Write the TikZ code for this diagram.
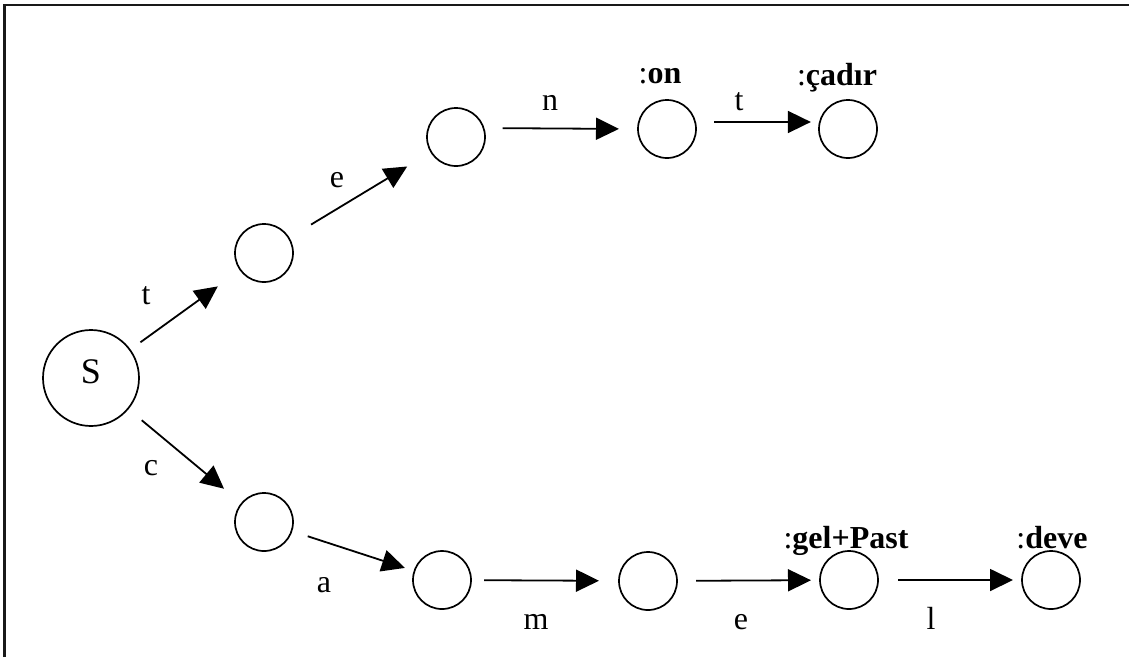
\documentclass[tikz,border=0pt]{standalone}
\usepackage{fontspec}
\setmainfont{Liberation Serif}
\usetikzlibrary{arrows.meta}
\begin{document}
\begin{tikzpicture}[x=1pt,y=-1pt,
  st/.style={circle,draw,line width=1.7pt,minimum size=58pt,inner sep=0pt,outer sep=0pt},
  startst/.style={circle,draw,line width=1.7pt,minimum size=96pt,inner sep=0pt,outer sep=0pt},
  arr/.style={line width=1.8pt,-{Triangle[length=23pt,width=22pt]}},
  lbl/.style={inner sep=0pt,anchor=base,font=\fontsize{32}{36}\selectfont},
  outlbl/.style={inner sep=0pt,anchor=base,font=\fontsize{32}{36}\selectfont}]
\useasboundingbox (0,0) rectangle (1129,657);
\draw[line width=2.2pt,black!90] (4.5,657) -- (4.5,5) -- (1129,5);
% states
\node[startst] (S) at (91,378) {};
\node[lbl] (Slbl) at (91,383) {\fontsize{36}{40}\selectfont S};
\node[st] (t1) at (264,253) {};
\node[st] (e1) at (456,137) {};
\node[st] (on) at (667,129) {};
\node[st] (cadir) at (848,129) {};
\node[st] (c1) at (264,522) {};
\node[st] (a1) at (442,580) {};
\node[st] (m1) at (648,581) {};
\node[st] (gel) at (849,580) {};
\node[st] (deve) at (1051,580) {};
% transitions
\draw[arr,shorten <=13pt,shorten >=28pt] (S) -- (t1);
\draw[arr,shorten <=26pt,shorten >=28pt] (t1) -- (e1);
\draw[arr,shorten <=19pt,shorten >=19pt] (e1.18) -- (on.180);
\draw[arr,shorten <=19pt,shorten >=9pt] (on.14) -- (cadir.166);
\draw[arr,shorten <=18pt,shorten >=23pt] (S) -- (c1);
\draw[arr,shorten <=17pt,shorten >=10pt] (c1) -- (a1);
\draw[arr,shorten <=13pt,shorten >=20pt] (a1) -- (m1);
\draw[arr,shorten <=19pt,shorten >=9pt] (m1) -- (gel);
\draw[arr,shorten <=20pt,shorten >=9pt] (gel) -- (deve);
% edge labels
\node[lbl] (lt1) at (146,304) {t};
\node[lbl] (le1) at (337,187) {e};
\node[lbl] (ln) at (550,110) {n};
\node[lbl] (lt2) at (739,110) {t};
\node[lbl] (lc) at (151,475) {c};
\node[lbl] (la) at (324,592) {a};
\node[lbl] (lm) at (536,629) {m};
\node[lbl] (le2) at (741,629) {e};
\node[lbl] (ll) at (931,629) {l};
% outputs
\node[outlbl] (oon) at (660,83) {:\textbf{on}};
\node[outlbl] (ocadir) at (837,85) {:\textbf{çadır}};
\node[outlbl] (ogel) at (846,548) {:\textbf{gel+Past}};
\node[outlbl] (odeve) at (1052,548) {:\textbf{deve}};
\end{tikzpicture}
\end{document}
